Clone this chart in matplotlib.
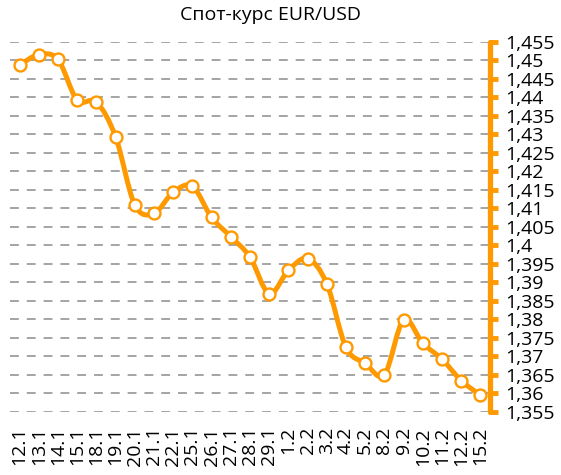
import numpy as np
import matplotlib.pyplot as plt
from matplotlib.path import Path
from matplotlib.patches import PathPatch
from matplotlib.ticker import FuncFormatter

plt.rcParams['font.family'] = ['Open Sans', 'DejaVu Sans']

# Дневной спот-курс EUR/USD
dates = ['12.1', '13.1', '14.1', '15.1', '18.1', '19.1', '20.1', '21.1', '22.1',
         '25.1', '26.1', '27.1', '28.1', '29.1', '1.2', '2.2', '3.2', '4.2',
         '5.2', '8.2', '9.2', '10.2', '11.2', '12.2', '15.2']
rate = [1.4487, 1.4515, 1.4502, 1.4392, 1.4387, 1.4293, 1.4109, 1.4086, 1.4143,
        1.4159, 1.4075, 1.4023, 1.3968, 1.3869, 1.3932, 1.3964, 1.3896, 1.3724,
        1.3681, 1.3650, 1.3798, 1.3735, 1.3692, 1.3634, 1.3595]
y_ticks = np.arange(1.355, 1.4551, 0.005)

orange = '#FF9900'

fig = plt.figure(figsize=(5.61, 4.75), dpi=100)
ax = fig.add_axes([0.0178, 0.1333, 0.8556, 0.7789])

x = np.arange(len(rate))
y = np.array(rate)

# сглаженная линия (кубические Безье, как в Excel)
verts = [(x[0], y[0])]
codes = [Path.MOVETO]
n = len(x)
for i in range(n - 1):
    p0 = np.array([x[max(i - 1, 0)], y[max(i - 1, 0)]])
    p1 = np.array([x[i], y[i]])
    p2 = np.array([x[i + 1], y[i + 1]])
    p3 = np.array([x[min(i + 2, n - 1)], y[min(i + 2, n - 1)]])
    c1 = p1 + (p2 - p0) / 6
    c2 = p2 - (p3 - p1) / 6
    verts += [tuple(c1), tuple(c2), tuple(p2)]
    codes += [Path.CURVE4] * 3
ax.add_patch(PathPatch(Path(verts, codes), fill=False, edgecolor=orange,
                       lw=3.6, capstyle='round', joinstyle='round', zorder=3))
ax.plot(x, y, ls='none', marker='o', ms=8.6, mfc='white', mec=orange,
        mew=1.7, zorder=4)

ax.set_xlim(-0.5, 24.5)
ax.set_ylim(1.355, 1.455)
ax.set_xticks(x)
ax.set_xticklabels(dates, rotation=90, fontsize=14)
ax.set_yticks(y_ticks)
ax.yaxis.set_major_formatter(FuncFormatter(lambda v, p: f'{v:.3f}'.rstrip('0').replace('.', ',')))
ax.yaxis.tick_right()
ax.tick_params(axis='y', colors=orange, length=6, width=3.5, labelsize=14,
               labelcolor='black', pad=5)
ax.tick_params(axis='x', length=0, pad=11, labelcolor='black')

for s in ['top', 'left', 'bottom']:
    ax.spines[s].set_visible(False)
ax.spines['right'].set_color(orange)
ax.spines['right'].set_linewidth(3.8)
ax.spines['right'].set_capstyle('round')

ax.grid(axis='y', color='#8c8c8c', ls=(0, (5.8, 5.2)), lw=1.1)
ax.set_axisbelow(True)

fig.text(0.483, 0.968, 'Спот-курс EUR/USD', ha='center', va='center', fontsize=14)

fig.savefig('out.png', dpi=100)
